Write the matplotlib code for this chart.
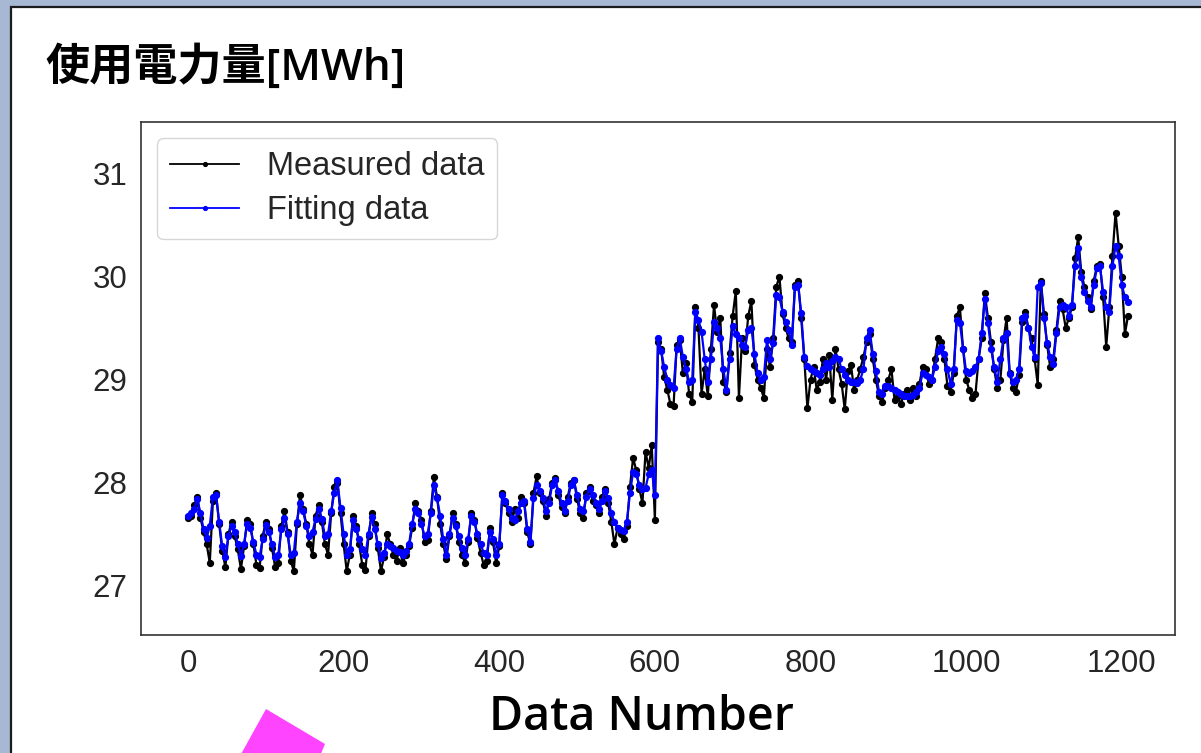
#!/usr/bin/env python3
"""Power usage: measured vs fitted values over the data index."""
import numpy as np
import matplotlib
matplotlib.use("Agg")
import matplotlib.pyplot as plt
from matplotlib.patches import Rectangle, Polygon

# every 4th data number, split at the level shift around n=600
n_before = np.arange(0, 601, 4)
n_after = np.arange(604, 1209, 4)

measured_before = [
    27.66, 27.68, 27.78, 27.86, 27.66, 27.52, 27.40, 27.22, 27.82, 27.90,
    27.60, 27.34, 27.18, 27.50, 27.62, 27.48, 27.35, 27.16, 27.38, 27.64,
    27.60, 27.40, 27.20, 27.17, 27.48, 27.62, 27.55, 27.36, 27.18, 27.22,
    27.58, 27.72, 27.52, 27.24, 27.14, 27.60, 27.88, 27.74, 27.60, 27.40,
    27.30, 27.68, 27.78, 27.62, 27.40, 27.30, 27.70, 27.96, 28.00, 27.70,
    27.40, 27.14, 27.30, 27.68, 27.58, 27.40, 27.20, 27.15, 27.48, 27.70,
    27.60, 27.36, 27.14, 27.28, 27.50, 27.40, 27.30, 27.24, 27.36, 27.22,
    27.30, 27.38, 27.56, 27.80, 27.72, 27.64, 27.42, 27.44, 27.72, 28.05,
    27.86, 27.60, 27.40, 27.26, 27.48, 27.70, 27.60, 27.42, 27.30, 27.22,
    27.42, 27.70, 27.64, 27.46, 27.32, 27.20, 27.24, 27.56, 27.42, 27.22,
    27.38, 27.90, 27.80, 27.70, 27.62, 27.74, 27.66, 27.86, 27.80, 27.52,
    27.40, 27.90, 28.06, 27.90, 27.82, 27.68, 27.84, 28.00, 28.04, 27.88,
    27.76, 27.70, 27.86, 28.00, 28.02, 27.84, 27.70, 27.66, 27.90, 27.96,
    27.82, 27.78, 27.70, 27.86, 27.94, 27.80, 27.62, 27.40, 27.56, 27.50,
    27.45, 27.58, 27.96, 28.24, 28.12, 27.94, 27.80, 28.30, 28.14, 28.36,
    27.64,
]
measured_after = [
    29.36, 29.30, 29.02, 28.90, 28.76, 28.74, 29.34, 29.38, 29.06, 29.16,
    28.86, 28.78, 29.70, 29.50, 28.86, 29.10, 28.84, 29.30, 29.72, 29.46,
    29.60, 28.98, 28.88, 29.26, 29.62, 29.86, 28.82, 29.40, 29.28, 29.62,
    29.76, 29.14, 29.00, 28.92, 28.82, 29.30, 29.12, 29.40, 29.90, 30.00,
    29.64, 29.50, 29.40, 29.36, 29.92, 29.96, 29.60, 29.20, 28.72, 29.00,
    29.12, 28.90, 28.98, 29.20, 29.00, 29.24, 28.80, 29.30, 29.10, 28.96,
    28.71, 29.08, 29.14, 28.90, 29.00, 29.10, 29.22, 29.36, 29.44, 29.20,
    29.00, 28.84, 28.78, 28.92, 29.00, 29.10, 28.80, 28.84, 28.76, 28.86,
    28.90, 28.80, 28.92, 28.84, 28.96, 29.12, 29.10, 28.96, 29.00, 29.20,
    29.40, 29.36, 29.20, 28.94, 28.88, 29.06, 29.62, 29.70, 29.30, 29.00,
    28.90, 28.82, 28.86, 29.20, 29.40, 29.84, 29.60, 29.36, 29.10, 28.92,
    29.00, 29.38, 29.60, 29.06, 28.92, 28.88, 29.04, 29.56, 29.66, 29.50,
    29.40, 29.20, 28.95, 29.96, 29.64, 29.34, 29.12, 29.20, 29.48, 29.76,
    29.68, 29.50, 29.60, 29.70, 30.18, 30.38, 30.04, 29.90, 29.80, 29.68,
    29.96, 30.10, 30.12, 29.80, 29.32, 29.70, 30.20, 30.62, 30.30, 30.00,
    29.44, 29.62,
]

fitted_before = [
    27.68, 27.70, 27.74, 27.84, 27.70, 27.55, 27.46, 27.58, 27.86, 27.88,
    27.62, 27.38, 27.28, 27.48, 27.58, 27.52, 27.40, 27.29, 27.40, 27.60,
    27.56, 27.42, 27.30, 27.28, 27.45, 27.59, 27.52, 27.40, 27.28, 27.30,
    27.55, 27.66, 27.50, 27.30, 27.32, 27.62, 27.80, 27.72, 27.58, 27.48,
    27.52, 27.65, 27.74, 27.65, 27.48, 27.50, 27.72, 27.90, 28.02, 27.75,
    27.50, 27.30, 27.35, 27.64, 27.55, 27.45, 27.35, 27.30, 27.50, 27.67,
    27.55, 27.40, 27.27, 27.32, 27.40, 27.38, 27.36, 27.34, 27.33, 27.30,
    27.34, 27.40, 27.60, 27.74, 27.70, 27.60, 27.48, 27.50, 27.70, 27.98,
    27.85, 27.68, 27.45, 27.30, 27.50, 27.66, 27.58, 27.48, 27.36, 27.30,
    27.45, 27.68, 27.62, 27.50, 27.40, 27.32, 27.30, 27.52, 27.45, 27.30,
    27.40, 27.88, 27.82, 27.74, 27.66, 27.64, 27.72, 27.80, 27.82, 27.55,
    27.42, 27.85, 27.98, 27.92, 27.85, 27.72, 27.80, 27.98, 28.02, 27.92,
    27.80, 27.72, 27.82, 27.98, 28.02, 27.88, 27.74, 27.72, 27.86, 27.94,
    27.88, 27.80, 27.74, 27.82, 27.92, 27.85, 27.70, 27.62, 27.56, 27.54,
    27.53, 27.62, 27.90, 28.10, 28.08, 27.98, 27.94, 27.95, 28.08, 28.12,
    27.88,
]
fitted_after = [
    29.40, 29.28, 29.12, 29.00, 28.95, 28.92, 29.30, 29.40, 29.22, 29.10,
    28.98, 29.00, 29.66, 29.58, 29.46, 29.20, 28.98, 29.20, 29.56, 29.50,
    29.40, 29.10, 28.90, 29.20, 29.52, 29.44, 29.40, 29.34, 29.32, 29.48,
    29.50, 29.25, 29.06, 29.00, 29.02, 29.38, 29.20, 29.35, 29.82, 29.80,
    29.66, 29.56, 29.48, 29.34, 29.90, 29.92, 29.65, 29.22, 29.13, 29.10,
    29.08, 29.06, 29.04, 29.10, 29.16, 29.12, 29.18, 29.22, 29.20, 29.10,
    29.04, 29.00, 28.98, 28.98, 28.97, 29.00, 29.10, 29.40, 29.48, 29.25,
    29.08, 28.88, 28.86, 28.94, 28.94, 28.92, 28.90, 28.88, 28.86, 28.84,
    28.84, 28.84, 28.85, 28.88, 28.92, 29.06, 29.04, 29.02, 29.00, 29.12,
    29.28, 29.32, 29.25, 29.10, 28.96, 29.10, 29.58, 29.55, 29.30, 29.08,
    29.06, 29.08, 29.12, 29.20, 29.45, 29.78, 29.55, 29.30, 29.12, 28.98,
    29.20, 29.40, 29.45, 29.05, 28.98, 29.00, 29.10, 29.60, 29.62, 29.50,
    29.32, 29.22, 29.90, 29.94, 29.60, 29.35, 29.22, 29.15, 29.45, 29.70,
    29.72, 29.70, 29.62, 29.72, 30.10, 30.28, 30.00, 29.85, 29.76, 29.70,
    29.92, 30.08, 30.10, 29.85, 29.70, 29.66, 30.10, 30.30, 30.20, 29.92,
    29.80, 29.75,
]

x_ticks = [0, 200, 400, 600, 800, 1000, 1200]
y_ticks = [27, 28, 29, 30, 31]

data_number = np.concatenate([n_before, n_after])
measured = np.concatenate([measured_before, measured_after])
fitted = np.concatenate([fitted_before, fitted_after])

W, H = 1201, 753
def fx(px):
    return px / W
def fy(py):
    return 1 - py / H

LATIN = ["Liberation Sans", "DejaVu Sans"]
HEAD = ["Open Sans", "Noto Sans CJK JP", "DejaVu Sans"]
TXT = "#262626"

fig = plt.figure(figsize=(W / 100, H / 100), dpi=100, facecolor="#a7b8d5")

# white card with a dark border, running off the right and bottom edges
fig.patches.append(Rectangle((fx(11), -0.05), 1.0, fy(7) + 0.05,
                             transform=fig.transFigure, facecolor="white",
                             edgecolor="#1c1c1c", lw=1.6, zorder=-5))

ax = fig.add_axes([fx(141), fy(635), fx(1175) - fx(141), fy(122) - fy(635)])
ax.plot(data_number, measured, color="black", lw=1.6, marker="o", ms=4.2,
        label="Measured data")
ax.plot(data_number, fitted, color="blue", lw=1.6, marker="o", ms=4.2,
        label="Fitting data")

ax.set_ylim(26.52, 31.5)
ax.set_xticks(x_ticks)
ax.set_yticks(y_ticks)
ax.tick_params(length=0, labelsize=22.5, labelcolor=TXT, pad=10)
for lab in ax.get_xticklabels() + ax.get_yticklabels():
    lab.set_family(LATIN)
for sp in ax.spines.values():
    sp.set_color("#333333")
    sp.set_linewidth(1.2)

leg = ax.legend(loc="upper left", prop={"family": LATIN, "size": 23.5},
                frameon=True, fancybox=True, edgecolor="#cccccc",
                framealpha=0.8, borderaxespad=0.5, handlelength=2.1,
                handletextpad=0.85, labelspacing=0.4, borderpad=0.4,
                markerscale=0.65)
for line in leg.get_lines():
    line.set_linewidth(1.3)
for t in leg.get_texts():
    t.set_color(TXT)

fig.text(fx(45), fy(67), "使用電力量[MWh]", fontsize=31.8, fontweight="semibold",
         family=HEAD, ha="left", va="center", color="black")
fig.text(fx(641), fy(717), "Data Number", fontsize=33.5, fontweight="semibold",
         family=HEAD, ha="center", va="center", color="black")

fig.patches.append(Polygon([(fx(266), fy(709)), (fx(325), fy(744)),
                            (fx(320), fy(756)), (fx(240), fy(756))],
                           closed=True, transform=fig.transFigure,
                           facecolor="#ff44ff", edgecolor="none", zorder=5))

fig.savefig("out.png", dpi=100, facecolor=fig.get_facecolor())
